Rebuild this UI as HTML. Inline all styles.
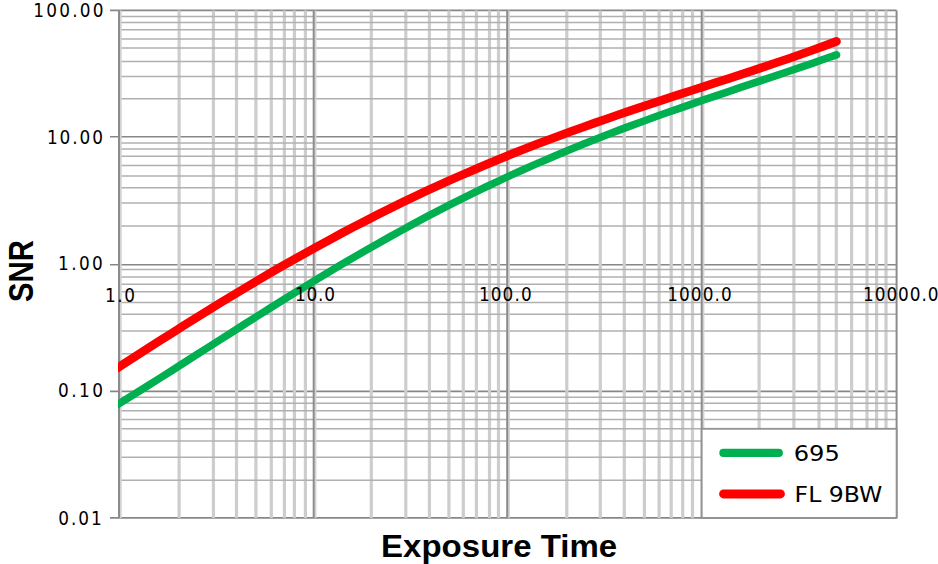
<!DOCTYPE html>
<html><head><meta charset="utf-8"><title>SNR vs Exposure Time</title>
<style>html,body{margin:0;padding:0;background:#fff;width:938px;height:564px;overflow:hidden}svg{display:block}</style>
</head><body>
<svg width="938" height="564" viewBox="0 0 938 564">
<rect width="938" height="564" fill="#fff"/>
<g stroke="#878787" stroke-width="1.6"><line x1="110.00" x2="896.60" y1="517.90" y2="517.90"/><line x1="110.00" x2="896.60" y1="391.40" y2="391.40"/><line x1="110.00" x2="896.60" y1="264.80" y2="264.80"/><line x1="110.00" x2="896.60" y1="136.80" y2="136.80"/><line x1="110.00" x2="896.60" y1="10.40" y2="10.40"/></g>
<g stroke="#cdcdcd" stroke-width="3.2"><line x1="179.10" x2="179.10" y1="10.40" y2="517.90"/><line x1="213.40" x2="213.40" y1="10.40" y2="517.90"/><line x1="236.50" x2="236.50" y1="10.40" y2="517.90"/><line x1="255.90" x2="255.90" y1="10.40" y2="517.90"/><line x1="271.30" x2="271.30" y1="10.40" y2="517.90"/><line x1="284.40" x2="284.40" y1="10.40" y2="517.90"/><line x1="294.40" x2="294.40" y1="10.40" y2="517.90"/><line x1="305.40" x2="305.40" y1="10.40" y2="517.90"/><line x1="371.30" x2="371.30" y1="10.40" y2="517.90"/><line x1="405.80" x2="405.80" y1="10.40" y2="517.90"/><line x1="429.40" x2="429.40" y1="10.40" y2="517.90"/><line x1="448.90" x2="448.90" y1="10.40" y2="517.90"/><line x1="463.30" x2="463.30" y1="10.40" y2="517.90"/><line x1="476.40" x2="476.40" y1="10.40" y2="517.90"/><line x1="489.50" x2="489.50" y1="10.40" y2="517.90"/><line x1="498.50" x2="498.50" y1="10.40" y2="517.90"/><line x1="566.80" x2="566.80" y1="10.40" y2="517.90"/><line x1="600.30" x2="600.30" y1="10.40" y2="517.90"/><line x1="624.30" x2="624.30" y1="10.40" y2="517.90"/><line x1="644.40" x2="644.40" y1="10.40" y2="517.90"/><line x1="659.10" x2="659.10" y1="10.40" y2="517.90"/><line x1="671.20" x2="671.20" y1="10.40" y2="517.90"/><line x1="682.70" x2="682.70" y1="10.40" y2="517.90"/><line x1="692.50" x2="692.50" y1="10.40" y2="517.90"/><line x1="759.10" x2="759.10" y1="10.40" y2="517.90"/><line x1="793.90" x2="793.90" y1="10.40" y2="517.90"/><line x1="819.00" x2="819.00" y1="10.40" y2="517.90"/><line x1="836.30" x2="836.30" y1="10.40" y2="517.90"/><line x1="851.60" x2="851.60" y1="10.40" y2="517.90"/><line x1="867.00" x2="867.00" y1="10.40" y2="517.90"/><line x1="876.60" x2="876.60" y1="10.40" y2="517.90"/><line x1="886.00" x2="886.00" y1="10.40" y2="517.90"/></g>
<g stroke="#b0b0b0" stroke-width="1.5"><line x1="119.00" x2="896.60" y1="480.30" y2="480.30"/><line x1="119.00" x2="896.60" y1="457.30" y2="457.30"/><line x1="119.00" x2="896.60" y1="441.00" y2="441.00"/><line x1="119.00" x2="896.60" y1="428.80" y2="428.80"/><line x1="119.00" x2="896.60" y1="419.60" y2="419.60"/><line x1="119.00" x2="896.60" y1="410.70" y2="410.70"/><line x1="119.00" x2="896.60" y1="403.20" y2="403.20"/><line x1="119.00" x2="896.60" y1="397.30" y2="397.30"/><line x1="119.00" x2="896.60" y1="353.80" y2="353.80"/><line x1="119.00" x2="896.60" y1="330.90" y2="330.90"/><line x1="119.00" x2="896.60" y1="314.20" y2="314.20"/><line x1="119.00" x2="896.60" y1="302.40" y2="302.40"/><line x1="119.00" x2="896.60" y1="291.70" y2="291.70"/><line x1="119.00" x2="896.60" y1="284.30" y2="284.30"/><line x1="119.00" x2="896.60" y1="276.90" y2="276.90"/><line x1="119.00" x2="896.60" y1="269.50" y2="269.50"/><line x1="119.00" x2="896.60" y1="225.90" y2="225.90"/><line x1="119.00" x2="896.60" y1="202.90" y2="202.90"/><line x1="119.00" x2="896.60" y1="187.80" y2="187.80"/><line x1="119.00" x2="896.60" y1="175.90" y2="175.90"/><line x1="119.00" x2="896.60" y1="165.40" y2="165.40"/><line x1="119.00" x2="896.60" y1="156.30" y2="156.30"/><line x1="119.00" x2="896.60" y1="148.90" y2="148.90"/><line x1="119.00" x2="896.60" y1="142.90" y2="142.90"/><line x1="119.00" x2="896.60" y1="98.80" y2="98.80"/><line x1="119.00" x2="896.60" y1="76.50" y2="76.50"/><line x1="119.00" x2="896.60" y1="61.50" y2="61.50"/><line x1="119.00" x2="896.60" y1="48.00" y2="48.00"/><line x1="119.00" x2="896.60" y1="39.00" y2="39.00"/><line x1="119.00" x2="896.60" y1="29.80" y2="29.80"/><line x1="119.00" x2="896.60" y1="22.50" y2="22.50"/><line x1="119.00" x2="896.60" y1="16.50" y2="16.50"/></g>
<g stroke="#d2d2d2" stroke-width="2"><line x1="120.70" x2="120.70" y1="10.40" y2="517.90"/><line x1="315.40" x2="315.40" y1="10.40" y2="517.90"/><line x1="508.90" x2="508.90" y1="10.40" y2="517.90"/><line x1="703.40" x2="703.40" y1="10.40" y2="517.90"/></g>
<g stroke="#8b8b8b" stroke-width="2"><line x1="119.00" x2="119.00" y1="10.40" y2="517.90"/><line x1="313.70" x2="313.70" y1="10.40" y2="517.90"/><line x1="507.20" x2="507.20" y1="10.40" y2="517.90"/><line x1="701.70" x2="701.70" y1="10.40" y2="517.90"/><line x1="896.60" x2="896.60" y1="10.40" y2="517.90"/></g>
<clipPath id="pc"><rect x="117.9" y="0" width="820" height="564"/></clipPath>
<g clip-path="url(#pc)" fill="none" stroke-linecap="round" stroke-linejoin="round">
<polyline points="112.0,408.0 124.1,400.6 136.2,393.1 148.2,385.5 160.3,377.9 172.4,370.2 184.4,362.5 196.5,354.8 208.6,347.1 220.7,339.4 232.8,331.7 244.8,324.0 256.9,316.4 269.0,308.8 281.0,301.3 293.1,293.8 305.2,286.4 317.3,279.0 329.4,271.8 341.4,264.6 353.5,257.5 365.6,250.5 377.6,243.7 389.7,236.9 401.8,230.2 413.9,223.6 425.9,217.2 438.0,210.9 450.1,204.7 462.2,198.6 474.2,192.6 486.3,186.8 498.4,181.1 510.5,175.4 522.5,170.0 534.6,164.6 546.7,159.4 558.8,154.2 570.8,149.2 582.9,144.3 595.0,139.5 607.1,134.8 619.1,130.1 631.2,125.6 643.3,121.2 655.4,116.8 667.4,112.5 679.5,108.3 691.6,104.1 703.7,99.9 715.8,95.8 727.8,91.8 739.9,87.7 752.0,83.7 764.0,79.7 776.1,75.6 788.2,71.5 800.3,67.4 812.3,63.3 824.4,59.0 836.5,54.8" stroke="#00b050" stroke-width="7.6"/>
<polyline points="112.0,371.4 124.1,363.6 136.2,355.9 148.2,348.1 160.3,340.4 172.4,332.8 184.4,325.2 196.5,317.6 208.6,310.1 220.7,302.7 232.8,295.4 244.8,288.1 256.9,280.9 269.0,273.8 281.0,266.8 293.1,259.9 305.2,253.2 317.3,246.5 329.4,239.9 341.4,233.4 353.5,227.0 365.6,220.8 377.6,214.6 389.7,208.6 401.8,202.7 413.9,196.9 425.9,191.2 438.0,185.7 450.1,180.2 462.2,174.9 474.2,169.7 486.3,164.5 498.4,159.5 510.5,154.6 522.5,149.8 534.6,145.1 546.7,140.5 558.8,136.0 570.8,131.5 582.9,127.2 595.0,122.9 607.1,118.7 619.1,114.5 631.2,110.4 643.3,106.4 655.4,102.4 667.4,98.4 679.5,94.4 691.6,90.5 703.7,86.6 715.8,82.7 727.8,78.8 739.9,74.8 752.0,70.9 764.0,66.9 776.1,62.8 788.2,58.7 800.3,54.5 812.3,50.2 824.4,45.9 836.5,41.4" stroke="#ff0000" stroke-width="8.6"/>
</g>
<rect x="701.70" y="428.80" width="194.90" height="89.10" fill="#fff" stroke="#929292" stroke-width="1.8"/>
<line x1="723.4" x2="778.8" y1="452.9" y2="452.9" stroke="#00b050" stroke-width="8.2" stroke-linecap="round"/>
<line x1="723.6" x2="780.4" y1="493.9" y2="493.9" stroke="#ff0000" stroke-width="9" stroke-linecap="round"/>
<g fill="#000"><text x="33.20" y="16.70" font-family="DejaVu Sans Condensed, DejaVu Sans, sans-serif" font-size="18.80" font-stretch="condensed" textLength="70.40" lengthAdjust="spacing">100.00</text><text x="46.90" y="143.90" font-family="DejaVu Sans Condensed, DejaVu Sans, sans-serif" font-size="18.80" font-stretch="condensed" textLength="56.10" lengthAdjust="spacing">10.00</text><text x="58.00" y="270.00" font-family="DejaVu Sans Condensed, DejaVu Sans, sans-serif" font-size="18.80" font-stretch="condensed" textLength="44.80" lengthAdjust="spacing">1.00</text><text x="57.90" y="396.90" font-family="DejaVu Sans Condensed, DejaVu Sans, sans-serif" font-size="18.80" font-stretch="condensed" textLength="45.20" lengthAdjust="spacing">0.10</text><text x="58.20" y="525.30" font-family="DejaVu Sans Condensed, DejaVu Sans, sans-serif" font-size="18.80" font-stretch="condensed" textLength="43.50" lengthAdjust="spacing">0.01</text><text x="105.00" y="301.90" font-family="DejaVu Sans Condensed, DejaVu Sans, sans-serif" font-size="18.80" font-stretch="condensed" textLength="29.90" lengthAdjust="spacing">1.0</text><text x="295.00" y="301.20" font-family="DejaVu Sans Condensed, DejaVu Sans, sans-serif" font-size="18.80" font-stretch="condensed" textLength="39.90" lengthAdjust="spacing">10.0</text><text x="478.90" y="301.10" font-family="DejaVu Sans Condensed, DejaVu Sans, sans-serif" font-size="18.80" font-stretch="condensed" textLength="52.80" lengthAdjust="spacing">100.0</text><text x="667.20" y="300.70" font-family="DejaVu Sans Condensed, DejaVu Sans, sans-serif" font-size="18.80" font-stretch="condensed" textLength="64.50" lengthAdjust="spacing">1000.0</text><text x="863.00" y="300.70" font-family="DejaVu Sans Condensed, DejaVu Sans, sans-serif" font-size="18.80" font-stretch="condensed" textLength="75.60" lengthAdjust="spacing">10000.0</text><text x="793.70" y="460.70" font-family="DejaVu Sans, sans-serif" font-size="21.50" textLength="46.10" lengthAdjust="spacingAndGlyphs">695</text><text x="794.60" y="501.80" font-family="DejaVu Sans, sans-serif" font-size="21.50" textLength="87.80" lengthAdjust="spacingAndGlyphs">FL 9BW</text><text x="381.10" y="556.70" font-family="Liberation Sans, Arial, sans-serif" font-size="30.70" font-weight="bold" textLength="236.00" lengthAdjust="spacingAndGlyphs">Exposure Time</text><text transform="translate(32.60,301.90) rotate(-90)" font-family="Liberation Sans, Arial, sans-serif" font-size="35.89" font-weight="bold" textLength="61.80" lengthAdjust="spacingAndGlyphs">SNR</text></g>
</svg>
</body></html>
